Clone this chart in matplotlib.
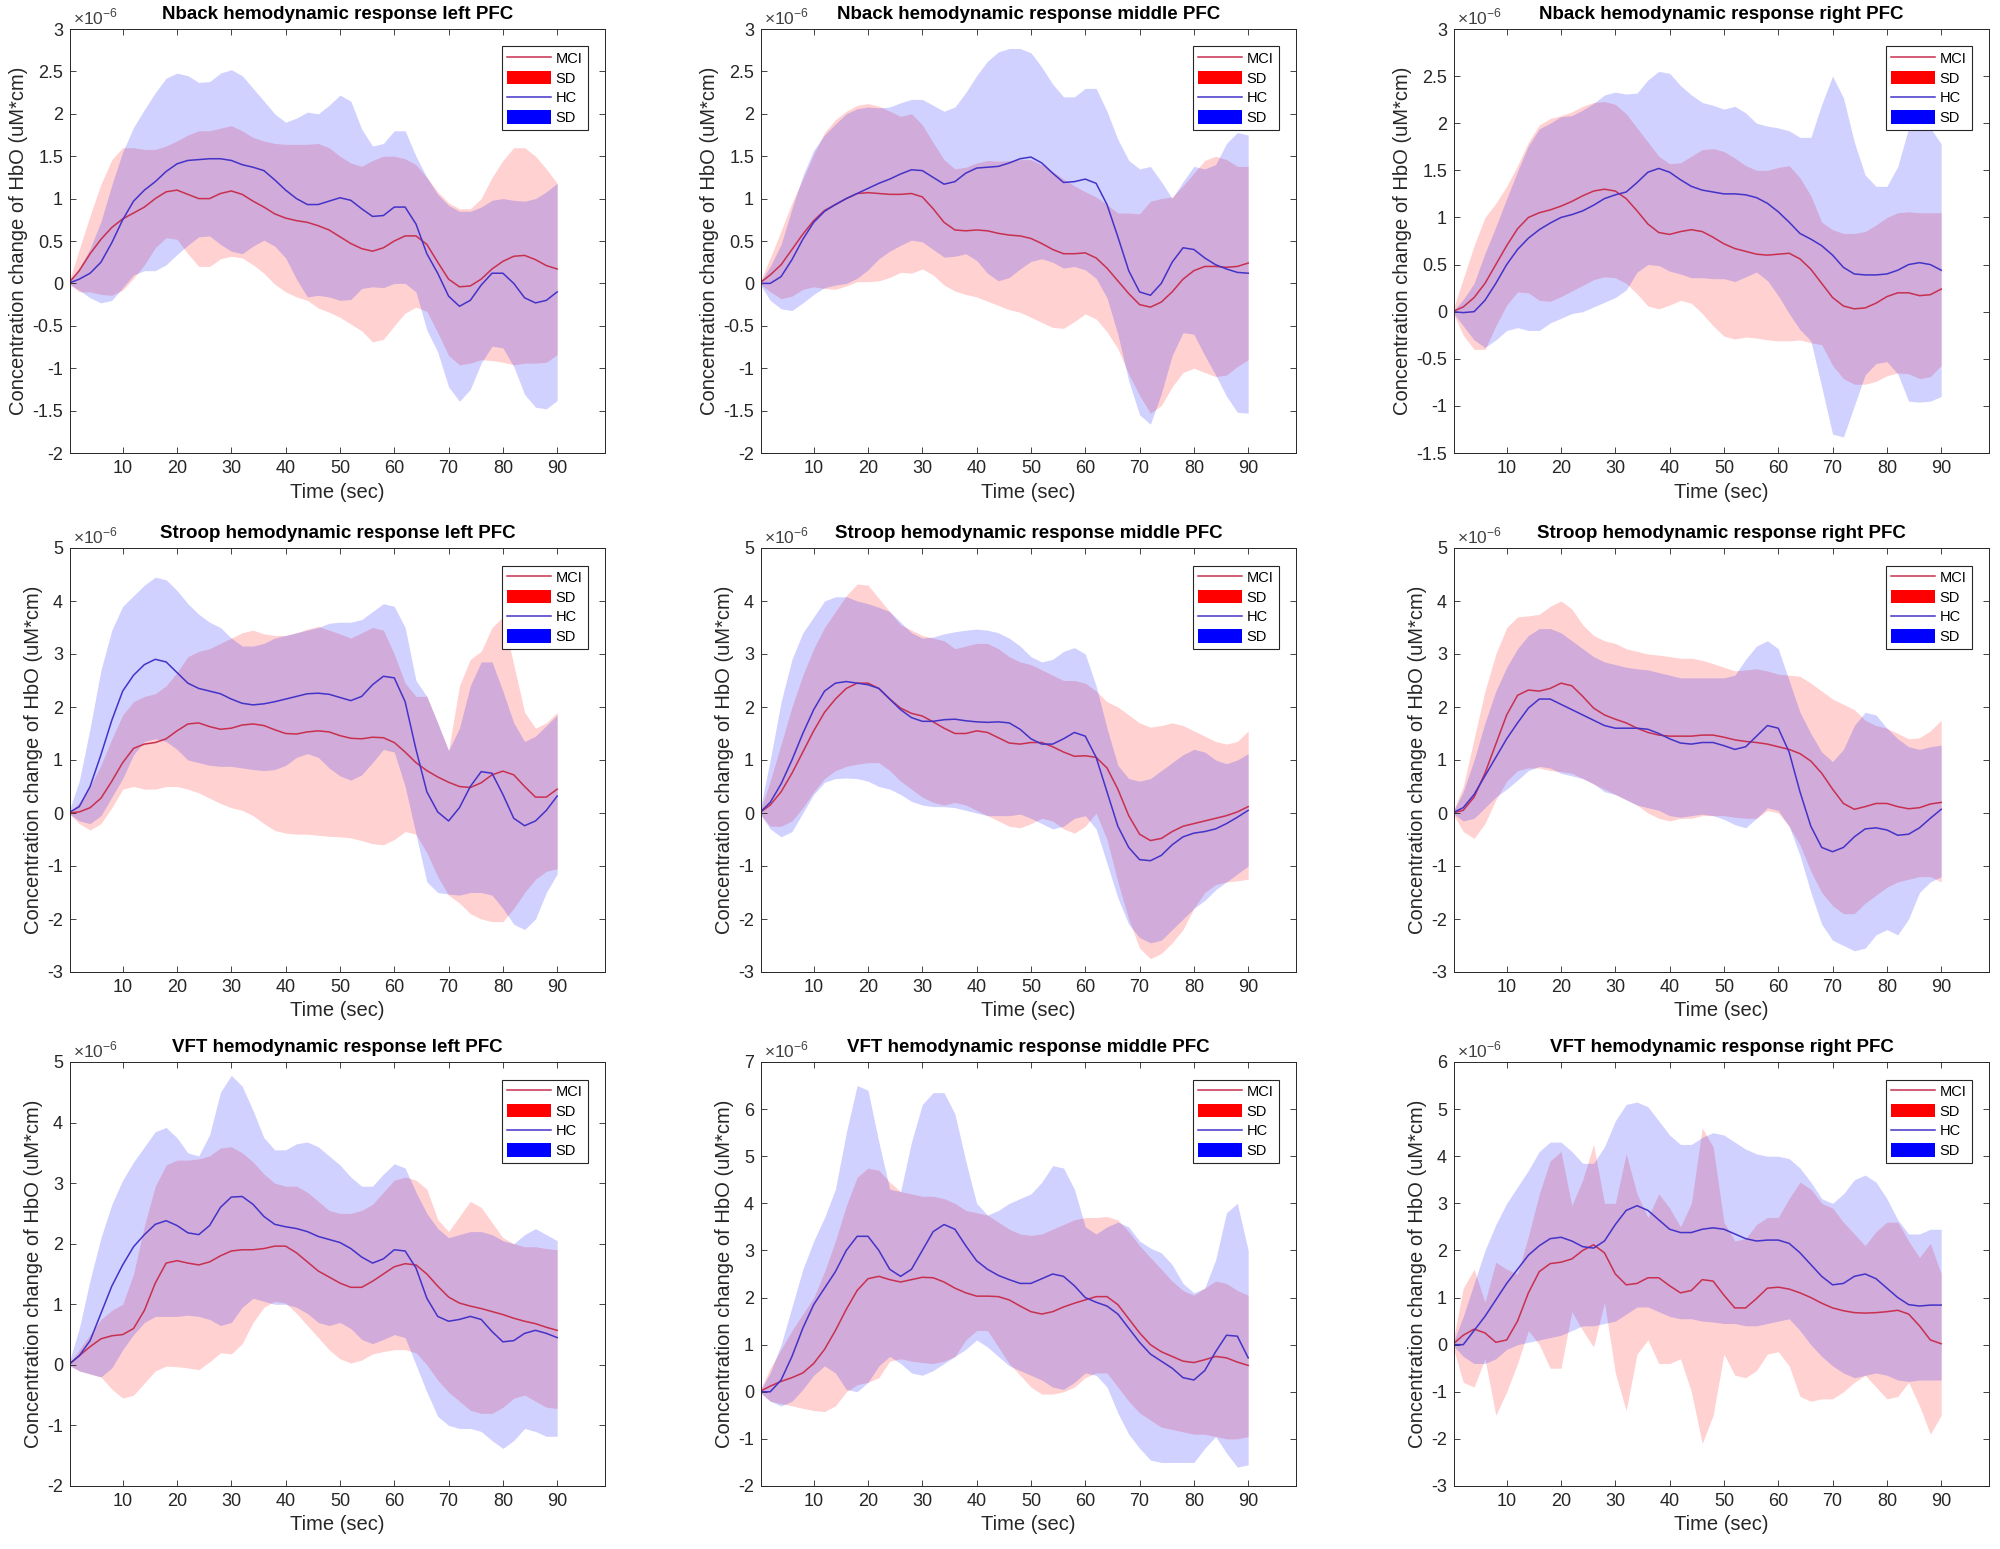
import numpy as np
import matplotlib
matplotlib.use('Agg')
import matplotlib.pyplot as plt
from matplotlib.lines import Line2D
from matplotlib.patches import Patch
from matplotlib.ticker import FuncFormatter

plt.rcParams['font.family'] = ['Liberation Sans', 'DejaVu Sans']
plt.rcParams['mathtext.fontset'] = 'custom'
plt.rcParams['mathtext.rm'] = 'Liberation Sans'
plt.rcParams['axes.unicode_minus'] = False

# sample times (sec), one reading every 2 s
time_s = np.arange(0, 91, 2)

# ---------------- Nback, left PFC ----------------
nb_left_mci = [0, .15, .35, .52, .66, .76, .83, .90, 1.00, 1.08,
               1.10, 1.05, 1.00, 1.00, 1.06, 1.09, 1.05, .97, .90, .82,
               .77, .74, .72, .68, .63, .55, .47, .41, .38, .42,
               .50, .56, .56, .46, .25, .05, -.04, -.03, .05, .17,
               .26, .32, .33, .28, .21, .17]
nb_left_mci_hi = [0, .40, .80, 1.17, 1.46, 1.60, 1.60, 1.58, 1.58, 1.62,
                  1.68, 1.75, 1.80, 1.80, 1.83, 1.86, 1.80, 1.72, 1.68, 1.65,
                  1.64, 1.64, 1.64, 1.65, 1.60, 1.50, 1.42, 1.38, 1.45, 1.50,
                  1.50, 1.47, 1.40, 1.25, 1.08, .95, .88, .88, 1.00, 1.25,
                  1.45, 1.60, 1.60, 1.50, 1.35, 1.18]
nb_left_mci_lo = [0, -.10, -.10, -.13, -.14, -.08, .06, .22, .42, .54,
                  .52, .35, .20, .20, .29, .32, .30, .22, .12, -.01,
                  -.10, -.16, -.20, -.29, -.34, -.40, -.48, -.56, -.69, -.66,
                  -.50, -.35, -.28, -.33, -.58, -.85, -.96, -.94, -.90, -.91,
                  -.93, -.96, -.94, -.94, -.93, -.84]
nb_left_hc = [0, .05, .12, .25, .48, .75, .97, 1.10, 1.20, 1.32,
              1.41, 1.45, 1.46, 1.47, 1.47, 1.45, 1.40, 1.37, 1.33, 1.22,
              1.10, 1.00, .93, .93, .97, 1.01, .98, .88, .79, .80,
              .90, .90, .70, .35, .12, -.15, -.27, -.20, -.02, .12,
              .12, .00, -.17, -.23, -.20, -.10]
nb_left_hc_hi = [0, .18, .41, .73, 1.16, 1.55, 1.84, 2.05, 2.25, 2.42,
                 2.48, 2.45, 2.37, 2.38, 2.48, 2.52, 2.45, 2.30, 2.15, 2.00,
                 1.90, 1.95, 2.02, 2.00, 2.10, 2.22, 2.15, 1.82, 1.62, 1.65,
                 1.80, 1.80, 1.50, 1.25, 1.05, .92, .85, .85, .90, .98,
                 1.00, .98, .97, 1.00, 1.08, 1.18]
nb_left_hc_lo = [0, -.08, -.17, -.23, -.20, -.05, .10, .15, .15, .22,
                 .34, .45, .55, .56, .46, .38, .35, .44, .51, .44,
                 .30, .05, -.16, -.14, -.16, -.20, -.19, -.06, -.04, -.05,
                 .00, .00, -.10, -.55, -.81, -1.22, -1.39, -1.25, -.94, -.74,
                 -.76, -.98, -1.31, -1.46, -1.48, -1.38]

# ---------------- Nback, middle PFC ----------------
nb_mid_mci = [0, .10, .22, .40, .58, .74, .86, .93, 1.00, 1.06,
              1.07, 1.06, 1.05, 1.05, 1.06, 1.02, .88, .72, .63, .62,
              .63, .62, .59, .57, .56, .53, .47, .40, .35, .35,
              .36, .30, .18, .03, -.12, -.25, -.28, -.22, -.10, .05,
              .15, .20, .20, .19, .20, .24]
nb_mid_mci_hi = [0, .30, .62, .95, 1.23, 1.52, 1.78, 1.93, 2.03, 2.10,
                 2.12, 2.09, 2.03, 1.97, 2.00, 1.87, 1.66, 1.46, 1.35, 1.37,
                 1.42, 1.45, 1.44, 1.45, 1.46, 1.46, 1.40, 1.32, 1.23, 1.15,
                 1.08, 1.02, .93, .83, .83, .82, .97, 1.00, 1.02, 1.15,
                 1.30, 1.45, 1.50, 1.46, 1.38, 1.38]
nb_mid_mci_lo = [0, -.10, -.18, -.15, -.07, -.04, -.06, -.07, -.03, .02,
                 .02, .03, .07, .13, .12, .17, .10, -.02, -.09, -.13,
                 -.16, -.21, -.26, -.31, -.34, -.40, -.46, -.52, -.53, -.45,
                 -.36, -.42, -.57, -.77, -1.07, -1.32, -1.53, -1.44, -1.22, -1.05,
                 -1.00, -1.05, -1.10, -1.08, -.98, -.90]
nb_mid_hc = [0, .00, .08, .28, .52, .72, .85, .93, 1.00, 1.06,
             1.12, 1.18, 1.23, 1.29, 1.34, 1.33, 1.25, 1.17, 1.20, 1.30,
             1.36, 1.37, 1.38, 1.42, 1.47, 1.49, 1.42, 1.30, 1.19, 1.20,
             1.23, 1.18, .93, .55, .15, -.10, -.14, .00, .25, .42,
             .40, .30, .22, .17, .13, .12]
nb_mid_hc_hi = [0, .20, .46, .88, 1.27, 1.57, 1.75, 1.88, 2.00, 2.06,
                2.08, 2.07, 2.08, 2.13, 2.17, 2.17, 2.10, 2.03, 2.08, 2.25,
                2.45, 2.62, 2.73, 2.77, 2.77, 2.72, 2.55, 2.35, 2.20, 2.20,
                2.30, 2.30, 2.03, 1.70, 1.45, 1.35, 1.38, 1.20, 1.00, 1.20,
                1.38, 1.35, 1.40, 1.65, 1.78, 1.75]
nb_mid_hc_lo = [0, -.20, -.30, -.32, -.23, -.13, -.05, -.02, .00, .06,
                .16, .29, .38, .45, .51, .49, .40, .31, .32, .35,
                .27, .12, .03, .07, .17, .26, .29, .25, .18, .20,
                .16, .06, -.17, -.60, -1.15, -1.55, -1.66, -1.30, -.85, -.58,
                -.60, -.85, -1.08, -1.33, -1.52, -1.53]

# ---------------- Nback, right PFC ----------------
nb_right_mci = [0, .05, .15, .30, .50, .70, .88, 1.00, 1.05, 1.08,
                1.12, 1.17, 1.23, 1.28, 1.30, 1.28, 1.20, 1.07, .93, .84,
                .82, .85, .87, .85, .79, .72, .67, .64, .61, .60,
                .61, .62, .56, .45, .30, .15, .06, .03, .04, .09,
                .16, .20, .20, .17, .18, .24]
nb_right_mci_hi = [0, .35, .70, 1.00, 1.15, 1.33, 1.55, 1.80, 1.98, 2.05,
                   2.08, 2.12, 2.18, 2.22, 2.23, 2.20, 2.10, 1.95, 1.80, 1.65,
                   1.57, 1.58, 1.65, 1.72, 1.73, 1.70, 1.63, 1.55, 1.50, 1.50,
                   1.53, 1.55, 1.42, 1.23, .95, .87, .83, .83, .85, .92,
                   1.00, 1.05, 1.06, 1.05, 1.05, 1.05]
nb_right_mci_lo = [0, -.25, -.40, -.40, -.15, .07, .21, .20, .12, .11,
                   .16, .22, .28, .34, .37, .36, .30, .19, .06, .03,
                   .07, .12, .09, -.02, -.15, -.26, -.29, -.27, -.28, -.30,
                   -.31, -.31, -.30, -.33, -.35, -.57, -.71, -.77, -.77, -.74,
                   -.68, -.65, -.66, -.71, -.69, -.57]
nb_right_hc = [0, -.01, .00, .12, .30, .50, .66, .78, .87, .94,
               1.00, 1.03, 1.07, 1.13, 1.20, 1.24, 1.27, 1.37, 1.48, 1.52,
               1.48, 1.40, 1.33, 1.29, 1.27, 1.25, 1.25, 1.24, 1.21, 1.15,
               1.06, .95, .83, .77, .70, .60, .47, .40, .39, .39,
               .40, .44, .50, .52, .50, .44]
nb_right_hc_hi = [0, .13, .30, .62, .90, 1.20, 1.49, 1.76, 1.94, 2.00,
                  2.07, 2.08, 2.14, 2.21, 2.30, 2.33, 2.31, 2.32, 2.46, 2.55,
                  2.53, 2.40, 2.30, 2.22, 2.19, 2.15, 2.18, 2.11, 2.00, 1.97,
                  1.95, 1.92, 1.85, 1.85, 2.20, 2.50, 2.27, 1.80, 1.45, 1.33,
                  1.33, 1.54, 1.95, 2.00, 1.95, 1.78]
nb_right_hc_lo = [0, -.15, -.30, -.38, -.30, -.20, -.17, -.20, -.20, -.12,
                  -.07, -.02, .00, .05, .10, .15, .23, .42, .50, .49,
                  .43, .40, .36, .36, .35, .35, .32, .37, .42, .33,
                  .17, -.02, -.19, -.31, -.80, -1.30, -1.33, -1.00, -.67, -.55,
                  -.53, -.66, -.95, -.96, -.95, -.90]

# ---------------- Stroop, left PFC ----------------
st_left_mci = [0, .02, .10, .28, .60, .95, 1.22, 1.30, 1.33, 1.40,
               1.55, 1.68, 1.70, 1.63, 1.58, 1.60, 1.66, 1.68, 1.65, 1.57,
               1.50, 1.49, 1.53, 1.55, 1.53, 1.46, 1.41, 1.40, 1.43, 1.42,
               1.33, 1.15, .95, .80, .68, .58, .50, .48, .57, .72,
               .79, .72, .50, .30, .30, .45]
st_left_mci_hi = [0, .20, .50, .90, 1.40, 1.85, 2.10, 2.20, 2.25, 2.40,
                  2.65, 2.95, 3.05, 3.10, 3.20, 3.30, 3.40, 3.45, 3.38, 3.35,
                  3.35, 3.40, 3.47, 3.52, 3.45, 3.38, 3.30, 3.40, 3.50, 3.45,
                  3.00, 2.45, 2.20, 2.20, 1.70, 1.18, 2.40, 2.90, 3.05, 3.50,
                  3.70, 2.80, 1.90, 1.60, 1.70, 1.90]
st_left_mci_lo = [0, -.20, -.32, -.20, .10, .45, .50, .45, .45, .50,
                  .50, .45, .38, .28, .18, .10, .05, -.05, -.20, -.33,
                  -.38, -.40, -.40, -.42, -.44, -.45, -.47, -.52, -.58, -.60,
                  -.50, -.35, -.40, -.75, -1.20, -1.55, -1.70, -1.90, -2.00, -2.05,
                  -2.05, -1.80, -1.50, -1.25, -1.10, -1.05]
st_left_hc = [0, .12, .50, 1.10, 1.75, 2.30, 2.60, 2.80, 2.90, 2.85,
              2.65, 2.45, 2.35, 2.30, 2.25, 2.15, 2.07, 2.04, 2.06, 2.10,
              2.15, 2.20, 2.25, 2.26, 2.24, 2.18, 2.12, 2.20, 2.42, 2.58,
              2.55, 2.10, 1.20, .40, .02, -.15, .10, .50, .78, .75,
              .35, -.10, -.24, -.15, .05, .32]
st_left_hc_hi = [0, .60, 1.60, 2.70, 3.45, 3.90, 4.10, 4.30, 4.45, 4.40,
                 4.20, 3.95, 3.75, 3.60, 3.50, 3.30, 3.15, 3.15, 3.20, 3.30,
                 3.35, 3.40, 3.45, 3.50, 3.58, 3.60, 3.60, 3.65, 3.80, 3.95,
                 3.90, 3.50, 2.50, 2.20, 1.70, 1.18, 1.60, 2.40, 2.85, 2.85,
                 2.30, 1.70, 1.35, 1.45, 1.65, 1.85]
st_left_hc_lo = [0, -.15, -.20, -.05, .30, .65, 1.10, 1.35, 1.40, 1.35,
                 1.20, 1.00, .95, .90, .88, .88, .85, .82, .80, .82,
                 .90, 1.05, 1.12, 1.05, .85, .70, .62, .72, .95, 1.20,
                 1.15, .50, -.40, -1.30, -1.50, -1.53, -1.55, -1.50, -1.50, -1.55,
                 -1.80, -2.10, -2.20, -2.00, -1.50, -1.15]

# ---------------- Stroop, middle PFC ----------------
st_mid_mci = [0, .15, .40, .75, 1.15, 1.55, 1.90, 2.15, 2.35, 2.45,
              2.45, 2.35, 2.15, 1.98, 1.88, 1.83, 1.72, 1.60, 1.50, 1.50,
              1.55, 1.52, 1.42, 1.32, 1.30, 1.33, 1.33, 1.25, 1.15, 1.07,
              1.08, 1.05, .85, .45, -.05, -.40, -.52, -.48, -.35, -.25,
              -.20, -.15, -.10, -.05, .02, .12]
st_mid_mci_hi = [0, .60, 1.30, 2.00, 2.60, 3.10, 3.50, 3.80, 4.10, 4.32,
                 4.30, 4.05, 3.80, 3.55, 3.45, 3.35, 3.30, 3.25, 3.10, 3.15,
                 3.20, 3.20, 3.10, 2.95, 2.85, 2.80, 2.70, 2.60, 2.50, 2.50,
                 2.45, 2.30, 2.10, 2.00, 1.85, 1.70, 1.62, 1.65, 1.70, 1.65,
                 1.55, 1.45, 1.35, 1.30, 1.35, 1.55]
st_mid_mci_lo = [0, -.25, -.25, -.15, .10, .40, .65, .80, .88, .92,
                 .95, .95, .80, .60, .45, .30, .20, .15, .20, .15,
                 .05, -.05, -.15, -.25, -.28, -.20, -.10, -.15, -.30, -.38,
                 -.25, .00, -.50, -1.30, -2.00, -2.55, -2.75, -2.65, -2.45, -2.20,
                 -1.80, -1.50, -1.35, -1.30, -1.28, -1.25]
st_mid_hc = [0, .20, .55, 1.00, 1.50, 1.95, 2.30, 2.45, 2.48, 2.45,
             2.42, 2.35, 2.15, 1.95, 1.80, 1.73, 1.73, 1.76, 1.77, 1.74,
             1.72, 1.71, 1.72, 1.70, 1.58, 1.40, 1.30, 1.30, 1.40, 1.52,
             1.45, 1.05, .40, -.25, -.65, -.88, -.90, -.80, -.60, -.45,
             -.38, -.35, -.30, -.20, -.08, .05]
st_mid_hc_hi = [0, 1.00, 2.10, 2.90, 3.40, 3.70, 4.00, 4.08, 4.08, 4.00,
                3.95, 3.88, 3.80, 3.60, 3.40, 3.30, 3.32, 3.38, 3.42, 3.45,
                3.47, 3.45, 3.40, 3.30, 3.15, 2.95, 2.85, 2.90, 3.05, 3.12,
                3.00, 2.40, 1.60, .90, .65, .60, .65, .80, .95, 1.10,
                1.20, 1.15, 1.00, .93, 1.00, 1.12]
st_mid_hc_lo = [0, -.30, -.45, -.35, .00, .35, .58, .65, .66, .65,
                .60, .50, .45, .35, .22, .15, .12, .12, .10, .05,
                .00, -.05, -.05, -.05, -.02, -.10, -.20, -.30, -.25, -.10,
                -.05, -.30, -.95, -1.60, -2.10, -2.35, -2.45, -2.40, -2.20, -2.00,
                -1.80, -1.65, -1.45, -1.30, -1.15, -1.00]

# ---------------- Stroop, right PFC ----------------
st_right_mci = [0, .05, .30, .75, 1.30, 1.85, 2.22, 2.32, 2.30, 2.35,
                2.45, 2.40, 2.20, 1.98, 1.85, 1.77, 1.70, 1.60, 1.52, 1.47,
                1.45, 1.45, 1.45, 1.47, 1.47, 1.43, 1.38, 1.35, 1.33, 1.30,
                1.25, 1.20, 1.12, .98, .75, .45, .18, .07, .12, .18,
                .18, .12, .08, .10, .17, .20]
st_right_mci_hi = [0, .50, 1.40, 2.30, 3.00, 3.50, 3.70, 3.72, 3.75, 3.90,
                   4.00, 3.85, 3.55, 3.35, 3.25, 3.20, 3.10, 3.05, 3.00, 2.98,
                   2.95, 2.92, 2.92, 2.88, 2.82, 2.75, 2.68, 2.70, 2.72, 2.68,
                   2.62, 2.60, 2.58, 2.45, 2.30, 2.15, 2.05, 1.95, 1.75, 1.65,
                   1.60, 1.50, 1.40, 1.42, 1.55, 1.75]
st_right_mci_lo = [0, -.35, -.48, -.20, .25, .60, .80, .85, .85, .80,
                   .78, .75, .65, .55, .45, .35, .25, .15, .00, -.10,
                   -.15, -.10, -.10, -.05, -.05, -.05, -.08, -.10, -.10, .05,
                   .00, -.25, -.60, -1.10, -1.50, -1.75, -1.90, -1.90, -1.70, -1.55,
                   -1.40, -1.30, -1.25, -1.20, -1.20, -1.30]
st_right_hc = [0, .10, .35, .70, 1.05, 1.40, 1.70, 1.98, 2.15, 2.15,
               2.05, 1.95, 1.85, 1.75, 1.65, 1.60, 1.60, 1.60, 1.58, 1.50,
               1.40, 1.32, 1.30, 1.33, 1.33, 1.27, 1.20, 1.25, 1.45, 1.65,
               1.60, 1.15, .40, -.25, -.65, -.73, -.65, -.45, -.30, -.28,
               -.32, -.42, -.40, -.28, -.10, .07]
st_right_hc_hi = [0, .40, 1.00, 1.70, 2.30, 2.75, 3.10, 3.35, 3.48, 3.48,
                  3.40, 3.25, 3.10, 2.95, 2.85, 2.80, 2.75, 2.72, 2.70, 2.65,
                  2.60, 2.55, 2.55, 2.55, 2.55, 2.55, 2.60, 2.90, 3.15, 3.25,
                  3.10, 2.50, 1.90, 1.50, 1.15, .97, 1.20, 1.65, 1.90, 1.85,
                  1.60, 1.40, 1.25, 1.20, 1.25, 1.28]
st_right_hc_lo = [0, -.15, -.10, .10, .30, .45, .62, .80, .88, .85,
                  .75, .70, .65, .55, .40, .35, .25, .15, .10, .05,
                  -.05, -.08, -.05, -.02, -.05, -.12, -.22, -.28, -.10, .10,
                  .05, -.25, -.80, -1.50, -2.10, -2.40, -2.50, -2.60, -2.55, -2.30,
                  -2.20, -2.30, -2.00, -1.50, -1.30, -1.20]

# ---------------- VFT, left PFC ----------------
vf_left_mci = [0, .15, .30, .43, .48, .50, .60, .90, 1.35, 1.68,
               1.72, 1.68, 1.65, 1.70, 1.80, 1.88, 1.90, 1.90, 1.92, 1.96,
               1.96, 1.85, 1.70, 1.55, 1.45, 1.35, 1.28, 1.28, 1.38, 1.50,
               1.62, 1.67, 1.65, 1.50, 1.30, 1.12, 1.02, .97, .93, .88,
               .83, .77, .72, .68, .62, .57]
vf_left_mci_hi = [0, .25, .50, .75, .90, 1.00, 1.50, 2.30, 2.95, 3.30,
                  3.38, 3.38, 3.40, 3.45, 3.58, 3.60, 3.50, 3.35, 3.15, 3.00,
                  2.95, 2.95, 2.85, 2.70, 2.55, 2.50, 2.50, 2.55, 2.65, 2.85,
                  3.05, 3.10, 3.05, 2.90, 2.40, 2.20, 2.45, 2.70, 2.60, 2.35,
                  2.10, 2.00, 1.95, 1.95, 1.92, 1.90]
vf_left_mci_lo = [0, -.10, -.15, -.20, -.40, -.55, -.50, -.30, -.10, -.02,
                  -.03, -.05, -.08, .05, .20, .18, .35, .70, .95, 1.05,
                  1.02, .85, .65, .45, .25, .10, .03, .08, .18, .22,
                  .25, .25, .20, .00, -.25, -.45, -.60, -.75, -.80, -.80,
                  -.70, -.55, -.50, -.60, -.70, -.72]
vf_left_hc = [0, .15, .40, .85, 1.30, 1.65, 1.95, 2.15, 2.32, 2.38,
              2.30, 2.18, 2.15, 2.30, 2.60, 2.77, 2.78, 2.65, 2.45, 2.32,
              2.28, 2.25, 2.20, 2.12, 2.07, 2.02, 1.92, 1.78, 1.68, 1.75,
              1.90, 1.88, 1.60, 1.10, .80, .72, .75, .80, .75, .55,
              .38, .40, .52, .57, .52, .45]
vf_left_hc_hi = [0, .60, 1.40, 2.10, 2.65, 3.05, 3.35, 3.60, 3.85, 3.92,
                 3.75, 3.50, 3.45, 3.80, 4.50, 4.78, 4.60, 4.20, 3.75, 3.55,
                 3.55, 3.65, 3.68, 3.60, 3.45, 3.30, 3.10, 2.95, 2.95, 3.15,
                 3.32, 3.25, 2.85, 2.50, 2.25, 2.10, 2.15, 2.20, 2.20, 2.15,
                 2.05, 2.00, 2.15, 2.25, 2.15, 2.05]
vf_left_hc_lo = [0, -.10, -.15, -.20, -.05, .25, .50, .70, .80, .80,
                 .80, .82, .80, .75, .65, .70, .95, 1.10, 1.05, 1.00,
                 1.00, .95, .85, .70, .65, .70, .60, .42, .35, .42,
                 .50, .45, .00, -.45, -.85, -1.00, -1.05, -1.05, -1.10, -1.25,
                 -1.38, -1.25, -1.05, -1.10, -1.18, -1.18]

# ---------------- VFT, middle PFC ----------------
vf_mid_mci = [0, .12, .22, .30, .40, .60, .90, 1.30, 1.75, 2.15,
              2.40, 2.45, 2.38, 2.33, 2.38, 2.43, 2.42, 2.33, 2.20, 2.10,
              2.03, 2.03, 2.02, 1.95, 1.82, 1.70, 1.65, 1.70, 1.80, 1.88,
              1.95, 2.02, 2.02, 1.85, 1.55, 1.25, 1.00, .85, .75, .65,
              .62, .68, .75, .72, .63, .56]
vf_mid_mci_hi = [0, .50, .90, 1.30, 1.65, 2.00, 2.55, 3.20, 3.95, 4.55,
                 4.75, 4.70, 4.45, 4.25, 4.20, 4.15, 4.15, 4.10, 4.00, 3.85,
                 3.80, 3.75, 3.60, 3.45, 3.35, 3.32, 3.35, 3.45, 3.55, 3.65,
                 3.70, 3.70, 3.72, 3.65, 3.40, 3.10, 2.85, 2.60, 2.35, 2.15,
                 2.05, 2.20, 2.35, 2.30, 2.15, 2.05]
vf_mid_mci_lo = [0, -.20, -.25, -.30, -.35, -.40, -.42, -.30, .00, .15,
                 .20, .30, .65, .70, .65, .62, .60, .65, .75, 1.10,
                 1.30, 1.30, .95, .60, .35, .10, -.05, -.05, .00, .10,
                 .30, .40, .40, .10, -.20, -.45, -.60, -.75, -.80, -.85,
                 -.90, -.90, -.95, -1.00, -1.00, -.95]
vf_mid_hc = [0, .00, .25, .75, 1.35, 1.85, 2.20, 2.55, 3.00, 3.30,
             3.30, 3.00, 2.60, 2.45, 2.60, 3.00, 3.40, 3.55, 3.45, 3.10,
             2.78, 2.60, 2.47, 2.38, 2.30, 2.30, 2.40, 2.50, 2.45, 2.25,
             2.00, 1.90, 1.82, 1.65, 1.35, 1.05, .80, .65, .50, .30,
             .25, .45, .85, 1.20, 1.18, .72]
vf_mid_hc_hi = [0, .40, 1.00, 1.80, 2.60, 3.20, 3.70, 4.30, 5.50, 6.50,
                6.40, 5.30, 4.30, 4.25, 5.30, 6.10, 6.35, 6.35, 5.90, 4.90,
                4.00, 3.75, 3.85, 4.00, 4.10, 4.20, 4.45, 4.80, 4.75, 4.30,
                3.50, 3.35, 3.50, 3.60, 3.50, 3.20, 3.05, 2.95, 2.70, 2.30,
                2.10, 2.20, 2.80, 3.80, 4.00, 3.00]
vf_mid_hc_lo = [0, -.20, -.30, -.20, .05, .35, .55, .40, .05, .00,
                .20, .55, .75, .60, .40, .35, .45, .60, .75, .90,
                1.10, .95, .75, .55, .45, .35, .25, .10, .05, .20,
                .40, .35, .10, -.45, -.90, -1.20, -1.45, -1.50, -1.50, -1.50,
                -1.50, -1.20, -.95, -1.30, -1.60, -1.55]

# ---------------- VFT, right PFC ----------------
vf_right_mci = [0, .20, .33, .25, .05, .10, .50, 1.10, 1.55, 1.72,
                1.75, 1.82, 2.00, 2.12, 1.95, 1.50, 1.27, 1.30, 1.42, 1.42,
                1.25, 1.10, 1.15, 1.38, 1.35, 1.05, .78, .78, .98, 1.20,
                1.22, 1.18, 1.10, 1.00, .88, .78, .72, .68, .67, .68,
                .70, .73, .65, .40, .10, .02]
vf_right_mci_hi = [0, 1.20, 1.60, .90, 1.75, 1.60, 1.50, 2.30, 3.20, 3.90,
                   4.10, 2.95, 3.50, 4.25, 3.00, 3.00, 4.05, 3.20, 2.70, 3.20,
                   2.90, 2.50, 3.00, 4.60, 4.20, 2.60, 2.20, 2.25, 2.55, 2.70,
                   2.70, 3.10, 3.45, 3.30, 3.00, 2.90, 2.60, 2.35, 2.10, 2.40,
                   2.60, 2.60, 2.20, 1.85, 2.15, 1.50]
vf_right_mci_lo = [0, -.80, -.90, -.30, -1.50, -1.00, -.40, .30, .00, -.50,
                   -.50, .70, .30, -.05, .90, -.60, -1.40, -.20, .10, -.40,
                   -.40, -.30, -1.00, -2.10, -1.50, -.20, -.65, -.70, -.55, -.20,
                   -.15, -.45, -1.10, -1.20, -1.15, -1.15, -1.00, -.80, -.65, -.90,
                   -1.15, -1.10, -.80, -1.30, -1.90, -1.50]
vf_right_hc = [0, .00, .30, .60, .95, 1.30, 1.60, 1.90, 2.10, 2.25,
               2.28, 2.20, 2.08, 2.05, 2.20, 2.55, 2.85, 2.95, 2.85, 2.65,
               2.45, 2.38, 2.38, 2.45, 2.48, 2.45, 2.35, 2.25, 2.20, 2.22,
               2.22, 2.15, 1.95, 1.70, 1.45, 1.27, 1.30, 1.45, 1.50, 1.40,
               1.20, 1.00, .85, .82, .84, .84]
vf_right_hc_hi = [0, .60, 1.30, 2.00, 2.55, 3.00, 3.35, 3.70, 4.10, 4.30,
                  4.30, 4.10, 3.85, 3.85, 4.20, 4.75, 5.10, 5.15, 5.05, 4.75,
                  4.45, 4.25, 4.25, 4.40, 4.50, 4.45, 4.30, 4.15, 4.05, 4.00,
                  4.00, 3.95, 3.75, 3.45, 3.10, 3.00, 3.20, 3.50, 3.60, 3.45,
                  3.10, 2.65, 2.35, 2.35, 2.45, 2.45]
vf_right_hc_lo = [0, -.25, -.40, -.40, -.30, -.10, .00, .05, .10, .15,
                  .20, .30, .40, .40, .45, .50, .65, .80, .80, .70,
                  .60, .55, .55, .50, .48, .45, .45, .40, .40, .45,
                  .50, .55, .30, .00, -.25, -.45, -.60, -.70, -.65, -.60,
                  -.65, -.75, -.78, -.75, -.75, -.75]

# title, MCI mean/hi/lo, HC mean/hi/lo, y range, y step
panels = [
    ('Nback hemodynamic response left PFC', nb_left_mci, nb_left_mci_hi, nb_left_mci_lo,
     nb_left_hc, nb_left_hc_hi, nb_left_hc_lo, (-2, 3), 0.5),
    ('Nback hemodynamic response middle PFC', nb_mid_mci, nb_mid_mci_hi, nb_mid_mci_lo,
     nb_mid_hc, nb_mid_hc_hi, nb_mid_hc_lo, (-2, 3), 0.5),
    ('Nback hemodynamic response right PFC', nb_right_mci, nb_right_mci_hi, nb_right_mci_lo,
     nb_right_hc, nb_right_hc_hi, nb_right_hc_lo, (-1.5, 3), 0.5),
    ('Stroop hemodynamic response left PFC', st_left_mci, st_left_mci_hi, st_left_mci_lo,
     st_left_hc, st_left_hc_hi, st_left_hc_lo, (-3, 5), 1),
    ('Stroop hemodynamic response middle PFC', st_mid_mci, st_mid_mci_hi, st_mid_mci_lo,
     st_mid_hc, st_mid_hc_hi, st_mid_hc_lo, (-3, 5), 1),
    ('Stroop hemodynamic response right PFC', st_right_mci, st_right_mci_hi, st_right_mci_lo,
     st_right_hc, st_right_hc_hi, st_right_hc_lo, (-3, 5), 1),
    ('VFT hemodynamic response left PFC', vf_left_mci, vf_left_mci_hi, vf_left_mci_lo,
     vf_left_hc, vf_left_hc_hi, vf_left_hc_lo, (-2, 5), 1),
    ('VFT hemodynamic response middle PFC', vf_mid_mci, vf_mid_mci_hi, vf_mid_mci_lo,
     vf_mid_hc, vf_mid_hc_hi, vf_mid_hc_lo, (-2, 7), 1),
    ('VFT hemodynamic response right PFC', vf_right_mci, vf_right_mci_hi, vf_right_mci_lo,
     vf_right_hc, vf_right_hc_hi, vf_right_hc_lo, (-3, 6), 1),
]

MCI_LINE = '#c8304f'
HC_LINE = '#4333c8'
AX_COL = '#262626'

FIG_W, FIG_H = 2000, 1549
col_left = [70, 761, 1454]
row_top = [29, 548, 1062]
ax_w, ax_h = 535, 424

fig = plt.figure(figsize=(FIG_W / 100, FIG_H / 100), dpi=100)

fmt = FuncFormatter(lambda v, p: '{:g}'.format(round(v, 2) + 0.0))

for i, (title, mci, mci_hi, mci_lo, hc, hc_hi, hc_lo, ylim, ystep) in enumerate(panels):
    r, c = divmod(i, 3)
    left = col_left[c]
    top = row_top[r]
    ax = fig.add_axes([left / FIG_W, 1 - (top + ax_h) / FIG_H, ax_w / FIG_W, ax_h / FIG_H])

    ax.fill_between(time_s, mci_lo, mci_hi, color='#ff0000', alpha=0.18, lw=0)
    ax.fill_between(time_s, hc_lo, hc_hi, color='#0000ff', alpha=0.18, lw=0)
    ax.plot(time_s, mci, color=MCI_LINE, lw=1.1)
    ax.plot(time_s, hc, color=HC_LINE, lw=1.1)

    ax.set_xlim(0.3, 98.8)
    ax.set_ylim(*ylim)
    ax.set_xticks(np.arange(10, 91, 10))
    ax.set_yticks(np.arange(ylim[0], ylim[1] + ystep / 2, ystep))
    ax.yaxis.set_major_formatter(fmt)
    ax.tick_params(direction='in', top=True, right=True, length=4, width=0.6,
                   labelsize=13, color=AX_COL, labelcolor=AX_COL, pad=5)
    for sp in ax.spines.values():
        sp.set_color(AX_COL)
        sp.set_linewidth(0.7)

    ax.set_title(title, fontsize=13.5, fontweight='bold', pad=7)
    ax.set_xlabel('Time (sec)', fontsize=14.5, labelpad=4, color=AX_COL)
    ax.set_ylabel('Concentration change of HbO (uM*cm)', fontsize=14.5, labelpad=3, color=AX_COL)
    ax.text(0.005, 1.003, '×10$^{-6}$', transform=ax.transAxes, ha='left', va='bottom',
            fontsize=12.5, color='#404040')

    handles = [Line2D([], [], color=MCI_LINE, lw=1.1),
               Patch(facecolor='#ff0000', edgecolor='none'),
               Line2D([], [], color=HC_LINE, lw=1.1),
               Patch(facecolor='#0000ff', edgecolor='none')]
    leg = ax.legend(handles, ['MCI', 'SD', 'HC', 'SD'], loc='upper right', fontsize=10.5,
                    frameon=True, fancybox=False, edgecolor=AX_COL, framealpha=1,
                    handlelength=3.0, handleheight=1.0, handletextpad=0.3,
                    labelspacing=0.35, borderpad=0.35, borderaxespad=1.2)
    leg.get_frame().set_linewidth(0.8)

fig.savefig('out.png', dpi=100)
